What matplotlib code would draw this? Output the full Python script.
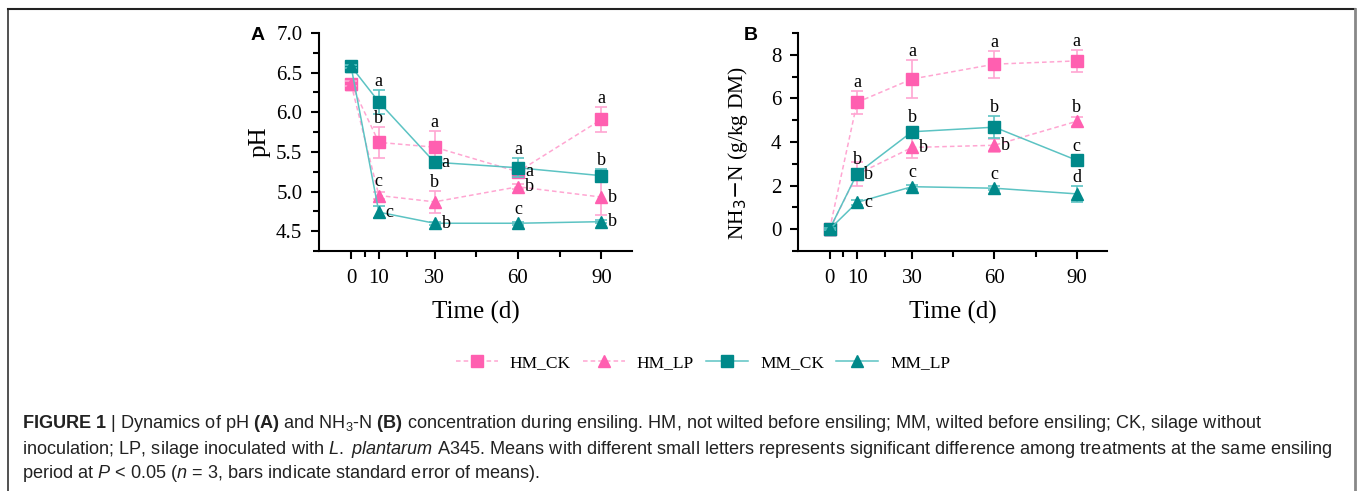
import matplotlib
matplotlib.use("Agg")
import matplotlib.pyplot as plt
from matplotlib.lines import Line2D
from matplotlib.ticker import FixedLocator, MultipleLocator
import numpy as np

# ensiling days
days = [0, 10, 30, 60, 90]
series = ["HM_CK", "HM_LP", "MM_CK", "MM_LP"]

# panel A: pH
ph_hm_ck = [6.36, 5.62, 5.56, 5.25, 5.91]
ph_hm_ck_se = [0.03, 0.20, 0.21, 0.04, 0.16]
ph_hm_lp = [6.36, 4.95, 4.87, 5.06, 4.93]
ph_hm_lp_se = [0.03, 0.05, 0.14, 0.03, 0.22]
ph_mm_ck = [6.58, 6.13, 5.37, 5.30, 5.20]
ph_mm_ck_se = [0.02, 0.15, 0.03, 0.12, 0.08]
ph_mm_lp = [6.58, 4.74, 4.60, 4.60, 4.62]
ph_mm_lp_se = [0.02, 0.08, 0.02, 0.02, 0.02]
ph_letters = [
    ["", "b", "a", "a", "a"],
    ["", "c", "b", "b", "b"],
    ["", "a", "a", "a", "b"],
    ["", "c", "b", "c", "b"],
]
ph_place = [
    ["", "up", "up", "right", "up"],
    ["", "up", "up", "right", "right"],
    ["", "up", "right", "up", "up"],
    ["", "right", "right", "up", "right"],
]

# panel B: NH3-N (g/kg DM)
nh_hm_ck = [0.0, 5.82, 6.89, 7.57, 7.72]
nh_hm_ck_se = [0.05, 0.52, 0.85, 0.62, 0.50]
nh_hm_lp = [0.0, 2.52, 3.75, 3.85, 4.95]
nh_hm_lp_se = [0.05, 0.55, 0.50, 0.30, 0.20]
nh_mm_ck = [0.0, 2.55, 4.47, 4.68, 3.16]
nh_mm_ck_se = [0.05, 0.10, 0.15, 0.50, 0.20]
nh_mm_lp = [0.0, 1.23, 1.95, 1.88, 1.62]
nh_mm_lp_se = [0.05, 0.10, 0.10, 0.08, 0.37]
nh_letters = [
    ["", "a", "a", "a", "a"],
    ["", "b", "b", "b", "b"],
    ["", "b", "b", "b", "c"],
    ["", "c", "c", "c", "d"],
]
nh_place = [
    ["", "up", "up", "up", "up"],
    ["", "right", "right", "right", "up"],
    ["", "up", "up", "up", "up"],
    ["", "right", "up", "up", "up"],
]

pink = "#FF5FB0"
pink_line = "#FFA6D2"
teal = "#00898A"
teal_line = "#5CC3C3"
colors = [pink, pink, teal, teal]
line_colors = [pink_line, pink_line, teal_line, teal_line]
styles = [(0, (3, 2)), (0, (3, 2)), "-", "-"]
markers = ["s", "^", "s", "^"]

serif = "Liberation Serif"

fig = plt.figure(figsize=(13.57, 4.91), dpi=100)


def draw_panel(ax, values, errs, letters, place, pad, ylim, yticks, yminor, ylabel, fmt, ylsize):
    for i in range(4):
        ax.errorbar(days, values[i], yerr=errs[i], fmt="none", ecolor=line_colors[i],
                    elinewidth=1.2, capsize=4, capthick=1.2, zorder=2 + i)
        ax.plot(days, values[i], linestyle=styles[i], color=line_colors[i], lw=1.1,
                marker=markers[i], markersize=8, markerfacecolor=colors[i],
                markeredgecolor=colors[i], zorder=3 + i)
        for j in range(len(days)):
            if letters[i][j] == "":
                continue
            if place[i][j] == "up":
                ax.text(days[j], values[i][j] + max(errs[i][j], pad), letters[i][j],
                        ha="center", va="bottom", fontsize=13, family=serif, zorder=10)
            else:
                ax.annotate(letters[i][j], (days[j], values[i][j]), xytext=(5, 0),
                            textcoords="offset points", ha="left", va="center",
                            fontsize=13, family=serif, zorder=10)
    ax.set_xlim(-11.5, 101)
    ax.set_ylim(*ylim)
    ax.xaxis.set_major_locator(FixedLocator(days))
    ax.xaxis.set_minor_locator(FixedLocator([5, 20, 45, 75]))
    ax.set_yticks(yticks)
    ax.set_yticklabels([fmt % t for t in yticks])
    ax.yaxis.set_minor_locator(MultipleLocator(yminor))
    for s in ["top", "right"]:
        ax.spines[s].set_visible(False)
    for s in ["left", "bottom"]:
        ax.spines[s].set_linewidth(1.5)
    ax.tick_params(which="major", direction="out", length=6, width=1.5, labelsize=15, pad=6)
    ax.tick_params(which="minor", direction="out", length=4, width=1.5)
    ax.tick_params(axis="x", pad=7)
    for lab in ax.get_xticklabels() + ax.get_yticklabels():
        lab.set_family(serif)
    ax.set_xlabel("Time (d)", family=serif, fontsize=18, labelpad=9)
    ax.set_ylabel(ylabel, family=serif, fontsize=ylsize, labelpad=4)


ax1 = fig.add_axes([0.2351, 0.4888, 0.2307, 0.444])
draw_panel(ax1, [ph_hm_ck, ph_hm_lp, ph_mm_ck, ph_mm_lp],
           [ph_hm_ck_se, ph_hm_lp_se, ph_mm_ck_se, ph_mm_lp_se],
           ph_letters, ph_place, 0.07, (4.25, 7.0),
           [4.5, 5.0, 5.5, 6.0, 6.5, 7.0], 0.25, "pH", "%.1f", 18)

ax2 = fig.add_axes([0.5881, 0.4888, 0.2277, 0.444])
draw_panel(ax2, [nh_hm_ck, nh_hm_lp, nh_mm_ck, nh_mm_lp],
           [nh_hm_ck_se, nh_hm_lp_se, nh_mm_ck_se, nh_mm_lp_se],
           nh_letters, nh_place, 0.25, (-1, 9),
           [0, 2, 4, 6, 8], 1, r"NH$_3$$-$N (g/kg DM)", "%d", 15.5)
ax2.yaxis.set_label_coords(-0.155, 0.45)

fig.text(258 / 1357, 1 - 35 / 491, "A", fontsize=14, fontweight="bold",
         family="Liberation Sans", ha="center", va="center")
fig.text(751 / 1357, 1 - 35 / 491, "B", fontsize=14, fontweight="bold",
         family="Liberation Sans", ha="center", va="center")

# legend
handles = [Line2D([], [], linestyle=styles[i], color=line_colors[i], lw=1.1,
                  marker=markers[i], markersize=8, markerfacecolor=colors[i],
                  markeredgecolor=colors[i]) for i in range(4)]
leg = fig.legend(handles, series, loc="center", bbox_to_anchor=(703 / 1357, 1 - 363 / 491),
                 ncol=4, frameon=False, handlelength=2.4, columnspacing=0.7,
                 handletextpad=0.7, prop={"family": serif, "size": 12.5})

# caption
plt.rcParams["mathtext.fontset"] = "custom"
plt.rcParams["mathtext.rm"] = "Liberation Sans"
plt.rcParams["mathtext.it"] = "Liberation Sans:italic"
plt.rcParams["mathtext.bf"] = "Liberation Sans:bold"
cap_kw = dict(fontsize=13.1, family="Liberation Sans", color="#222222", ha="left", va="center")
fig.text(22 / 1357, 1 - 424 / 491,
         r"$\mathbf{FIGURE\ 1}$ | Dynamics of pH $\mathbf{(A)}$ and NH$_3$-N $\mathbf{(B)}$ concentration "
         r"during ensiling. HM, not wilted before ensiling; MM, wilted before ensiling; CK, silage without",
         **cap_kw)
fig.text(22 / 1357, 1 - 449 / 491,
         r"inoculation; LP, silage inoculated with $\mathit{L.}$ $\mathit{plantarum}$ A345. Means with different "
         r"small letters represents significant difference among treatments at the same ensiling",
         **cap_kw)
fig.text(22 / 1357, 1 - 473 / 491,
         r"period at $\mathit{P}$ < 0.05 ($\mathit{n}$ = 3, bars indicate standard error of means).",
         **cap_kw)

# frame round the figure
fig.add_artist(Line2D([8 / 1357, 8 / 1357], [0, 1 - 9 / 491], transform=fig.transFigure,
                      color="#333333", lw=1.2))
fig.add_artist(Line2D([8 / 1357, 1355 / 1357], [1 - 9 / 491, 1 - 9 / 491],
                      transform=fig.transFigure, color="#222222", lw=1.5))
fig.add_artist(Line2D([1355 / 1357, 1355 / 1357], [0, 1 - 9 / 491], transform=fig.transFigure,
                      color="#888888", lw=2.0))

fig.savefig("out.png", dpi=100)
